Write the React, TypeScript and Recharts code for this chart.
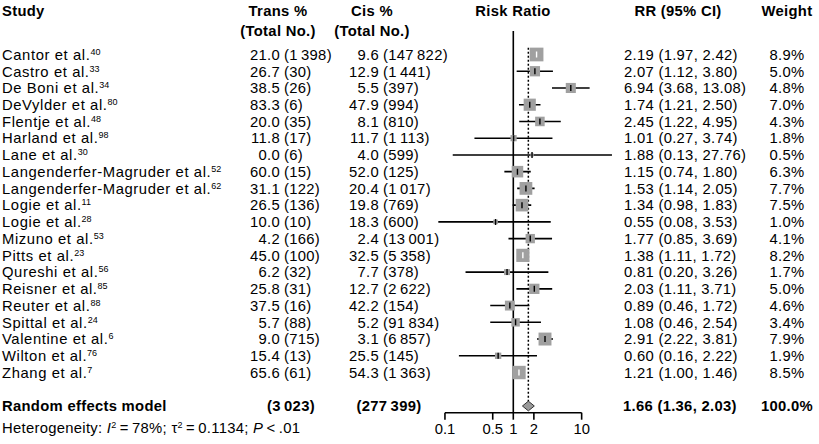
import React from 'react';
import { ComposedChart, Line, Area, XAxis, YAxis, ReferenceLine } from 'recharts';

// ---------- data ----------
const studies = [
  'Cantor et al.', 'Castro et al.', 'De Boni et al.', 'DeVylder et al.', 'Flentje et al.',
  'Harland et al.', 'Lane et al.', 'Langenderfer-Magruder et al.', 'Langenderfer-Magruder et al.',
  'Logie et al.', 'Logie et al.', 'Mizuno et al.', 'Pitts et al.', 'Qureshi et al.', 'Reisner et al.',
  'Reuter et al.', 'Spittal et al.', 'Valentine et al.', 'Wilton et al.', 'Zhang et al.',
];
const refs = ['40', '33', '34', '80', '48', '98', '30', '52', '62', '11', '28', '53', '23', '56', '85', '88', '24', '6', '76', '7'];
const transPct = [21.0, 26.7, 38.5, 83.3, 20.0, 11.8, 0.0, 60.0, 31.1, 26.5, 10.0, 4.2, 45.0, 6.2, 25.8, 37.5, 5.7, 9.0, 15.4, 65.6];
const transN = [1398, 30, 26, 6, 35, 17, 6, 15, 122, 136, 10, 166, 100, 32, 31, 16, 88, 715, 13, 61];
const cisPct = [9.6, 12.9, 5.5, 47.9, 8.1, 11.7, 4.0, 52.0, 20.4, 19.8, 18.3, 2.4, 32.5, 7.7, 12.7, 42.2, 5.2, 3.1, 25.5, 54.3];
const cisN = [147822, 1441, 397, 994, 810, 1113, 599, 125, 1017, 769, 600, 13001, 5358, 378, 2622, 154, 91834, 6857, 145, 1363];
const rr = [2.19, 2.07, 6.94, 1.74, 2.45, 1.01, 1.88, 1.15, 1.53, 1.34, 0.55, 1.77, 1.38, 0.81, 2.03, 0.89, 1.08, 2.91, 0.60, 1.21];
const ciLow = [1.97, 1.12, 3.68, 1.21, 1.22, 0.27, 0.13, 0.74, 1.14, 0.98, 0.08, 0.85, 1.11, 0.20, 1.11, 0.46, 0.46, 2.22, 0.16, 1.00];
const ciHigh = [2.42, 3.80, 13.08, 2.50, 4.95, 3.74, 27.76, 1.80, 2.05, 1.83, 3.53, 3.69, 1.72, 3.26, 3.71, 1.72, 2.54, 3.81, 2.22, 1.46];
const weights = [8.9, 5.0, 4.8, 7.0, 4.3, 1.8, 0.5, 6.3, 7.7, 7.5, 1.0, 4.1, 8.2, 1.7, 5.0, 4.6, 3.4, 7.9, 1.9, 8.5];

const pooledLabel = 'Random effects model';
const pooledTransN = 3023;
const pooledCisN = 277399;
const pooledRR = 1.66;
const pooledLow = 1.36;
const pooledHigh = 2.03;
const pooledWeight = 100.0;
const hetI2 = 78;
const hetTau2 = 0.1134;
const hetP = '<.01';

const xTicks = [0.1, 0.5, 1, 2, 10];

// ---------- layout ----------
const W = 819;
const H = 444;
const FONT = '"Liberation Sans", Arial, sans-serif';
const FS = 14.8;
const LS_NAME = 0.6;
const LS_NUM = 0.3;
const X_DOMAIN: [number, number] = [0.01, 100];
const PLOT_LEFT = 376.6;
const PLOT_RIGHT = 650;
const PLOT_TOP = 31.06;
const PLOT_BOTTOM = 412.7;
const Y_DOMAIN: [number, number] = [-1.4, 21.4];
const POOLED_ROW = 21;
const DIAMOND_HALF = 0.29;
const PX_PER_DECADE = (PLOT_RIGHT - PLOT_LEFT) / (Math.log10(X_DOMAIN[1]) - Math.log10(X_DOMAIN[0]));
const SQ_K = 4.6;
const BASE = 5.3; // baseline offset from row centre

const COL_TRANS_PCT = 280;
const COL_CIS_PCT = 379;
const COL_GAP = 4;
const COL_RR = 624;
const COL_WEIGHT = 787;

const fmtN = (n: number) => String(n).replace(/\B(?=(\d{3})+(?!\d))/g, '\u2009');
const sqSide = (i: number) => SQ_K * Math.sqrt(weights[i]);
const isWhite = (i: number) => Math.log10(ciHigh[i] / ciLow[i]) * PX_PER_DECADE < sqSide(i);

const rows = studies.map((_, i) => i);

const pointData = studies.map((_, i) => ({ x: rr[i], row: i, idx: i }));

const ciData = (pick: (i: number) => boolean) => {
  const out: { x: number; row: number | null }[] = [];
  rows.forEach((i) => {
    if (!pick(i)) return;
    out.push({ x: ciLow[i], row: i });
    out.push({ x: ciHigh[i], row: i });
    out.push({ x: ciHigh[i], row: null });
  });
  return out;
};
const ciBlack = ciData((i) => !isWhite(i));
const ciWhite = ciData((i) => isWhite(i));

const diamondData = [
  { x: pooledLow, d: [POOLED_ROW, POOLED_ROW] },
  { x: pooledRR, d: [POOLED_ROW - DIAMOND_HALF, POOLED_ROW + DIAMOND_HALF] },
  { x: pooledHigh, d: [POOLED_ROW, POOLED_ROW] },
];

const renderSquare = (props: any) => {
  const { cx, cy, payload, index } = props;
  if (cx == null || cy == null || !payload) return <g key={`sq-${index}`} />;
  const i = payload.idx;
  const s = sqSide(i);
  const white = isWhite(i);
  return (
    <g key={`sq-${index}`}>
      <rect x={cx - s / 2} y={cy - s / 2} width={s} height={s} fill="#a0a0a0" />
      <line x1={cx} x2={cx} y1={cy - 3} y2={cy + 3} stroke={white ? '#fff' : '#000'} strokeWidth={1.4} />
    </g>
  );
};

const Sup = ({ children }: { children: React.ReactNode }) => (
  <tspan fontSize={9} dy={-5} letterSpacing={0}>{children}</tspan>
);

const RowTick = (props: any) => {
  const { y, payload } = props;
  const r = payload.value;
  const by = y + BASE;
  if (r === POOLED_ROW) {
    return (
      <g fontFamily={FONT} fontSize={FS} fontWeight={700} fill="#000">
        <text x={2} y={by} letterSpacing={0.3}>{pooledLabel}</text>
        <text x={291} y={by} textAnchor="middle" letterSpacing={LS_NUM}>({fmtN(pooledTransN)})</text>
        <text x={389} y={by} textAnchor="middle" letterSpacing={LS_NUM}>({fmtN(pooledCisN)})</text>
        <text x={COL_RR - 1} y={by} letterSpacing={LS_NUM}>{`${pooledRR.toFixed(2)} (${pooledLow.toFixed(2)}, ${pooledHigh.toFixed(2)})`}</text>
        <text x={COL_WEIGHT} y={by} textAnchor="middle" letterSpacing={LS_NUM}>{pooledWeight.toFixed(1)}%</text>
      </g>
    );
  }
  const i = r;
  if (i < 0 || i >= studies.length) return <g />;
  return (
    <g fontFamily={FONT} fontSize={FS} fill="#000">
      <text x={2} y={by}>
        <tspan letterSpacing={LS_NAME}>{studies[i]}</tspan>
        <Sup>{refs[i]}</Sup>
      </text>
      <text x={COL_TRANS_PCT} y={by} textAnchor="end" letterSpacing={LS_NUM}>{transPct[i].toFixed(1)}</text>
      <text x={COL_TRANS_PCT + COL_GAP} y={by} letterSpacing={LS_NUM}>({fmtN(transN[i])})</text>
      <text x={COL_CIS_PCT} y={by} textAnchor="end" letterSpacing={LS_NUM}>{cisPct[i].toFixed(1)}</text>
      <text x={COL_CIS_PCT + COL_GAP} y={by} letterSpacing={LS_NUM}>({fmtN(cisN[i])})</text>
      <text x={COL_RR} y={by} letterSpacing={LS_NUM}>{`${rr[i].toFixed(2)} (${ciLow[i].toFixed(2)}, ${ciHigh[i].toFixed(2)})`}</text>
      <text x={COL_WEIGHT} y={by} textAnchor="middle" letterSpacing={LS_NUM}>{weights[i].toFixed(1)}%</text>
    </g>
  );
};

export default function App() {
  return (
    <div style={{ position: 'absolute', left: 0, top: 0, width: W, height: H, background: '#fff' }}>
      <ComposedChart
        width={W}
        height={H}
        margin={{ top: PLOT_TOP, right: W - PLOT_RIGHT, bottom: 0, left: PLOT_LEFT - 1 }}
      >
        <XAxis
          dataKey="x"
          type="number"
          scale="log"
          domain={X_DOMAIN}
          allowDataOverflow
          ticks={xTicks}
          interval={0}
          axisLine={false}
          tickLine={{ stroke: '#000', strokeWidth: 1.6 }}
          tickSize={7}
          tickMargin={4}
          height={H - PLOT_BOTTOM}
          tick={{ fontSize: FS, fill: '#000', fontFamily: FONT }}
          tickFormatter={(v: number) => String(v)}
        />
        <YAxis
          type="number"
          domain={Y_DOMAIN}
          allowDataOverflow
          reversed
          ticks={[...rows, POOLED_ROW]}
          interval={0}
          axisLine={false}
          tickLine={false}
          width={1}
          tick={<RowTick />}
        />
        <ReferenceLine x={1} stroke="#000" strokeWidth={1.6} />
        <Area
          data={pointData}
          dataKey="row"
          type="linear"
          stroke="none"
          fill="none"
          dot={renderSquare}
          activeDot={false}
          isAnimationActive={false}
        />
        <Area
          data={diamondData}
          dataKey="d"
          type="linear"
          fill="#9a9a9a"
          fillOpacity={1}
          stroke="#333"
          strokeWidth={1}
          dot={false}
          activeDot={false}
          isAnimationActive={false}
        />
        <Line
          data={ciBlack}
          dataKey="row"
          stroke="#000"
          strokeWidth={1.6}
          dot={false}
          activeDot={false}
          connectNulls={false}
          isAnimationActive={false}
        />
        <Line
          data={ciWhite}
          dataKey="row"
          stroke="#fff"
          strokeWidth={1.4}
          dot={false}
          activeDot={false}
          connectNulls={false}
          isAnimationActive={false}
        />
        <ReferenceLine
          segment={[{ x: pooledRR, y: -0.4 }, { x: pooledRR, y: POOLED_ROW - DIAMOND_HALF }]}
          stroke="#000"
          strokeWidth={1.5}
          strokeDasharray="2 2"
        />
        <ReferenceLine
          segment={[{ x: xTicks[0], y: Y_DOMAIN[1] }, { x: xTicks[xTicks.length - 1], y: Y_DOMAIN[1] }]}
          stroke="#000"
          strokeWidth={1.6}
        />
        <g fontFamily={FONT} fontSize={FS} fontWeight={700} fill="#000" letterSpacing={0.3}>
          <text x={2} y={16}>Study</text>
          <text x={278} y={16} textAnchor="middle">Trans %</text>
          <text x={278} y={36} textAnchor="middle">(Total No.)</text>
          <text x={372} y={16} textAnchor="middle">Cis %</text>
          <text x={372} y={36} textAnchor="middle">(Total No.)</text>
          <text x={513} y={16} textAnchor="middle">Risk Ratio</text>
          <text x={678} y={16} textAnchor="middle">RR (95% CI)</text>
          <text x={787} y={16} textAnchor="middle">Weight</text>
        </g>
        <text x={2} y={433} fontFamily={FONT} fontSize={FS} fill="#000" letterSpacing={0.3}>
          {'Heterogeneity: '}
          <tspan fontStyle="italic">I</tspan>
          <tspan fontSize={9} dy={-5}>2</tspan>
          <tspan dy={5}>{`\u2009=\u2009${hetI2}%; \u03c4`}</tspan>
          <tspan fontSize={9} dy={-5}>2</tspan>
          <tspan dy={5}>{`\u2009=\u2009${hetTau2}; `}</tspan>
          <tspan fontStyle="italic">P</tspan>
          <tspan>{`\u2009${hetP.replace('<', '<\u2009')}`}</tspan>
        </text>
      </ComposedChart>
    </div>
  );
}
